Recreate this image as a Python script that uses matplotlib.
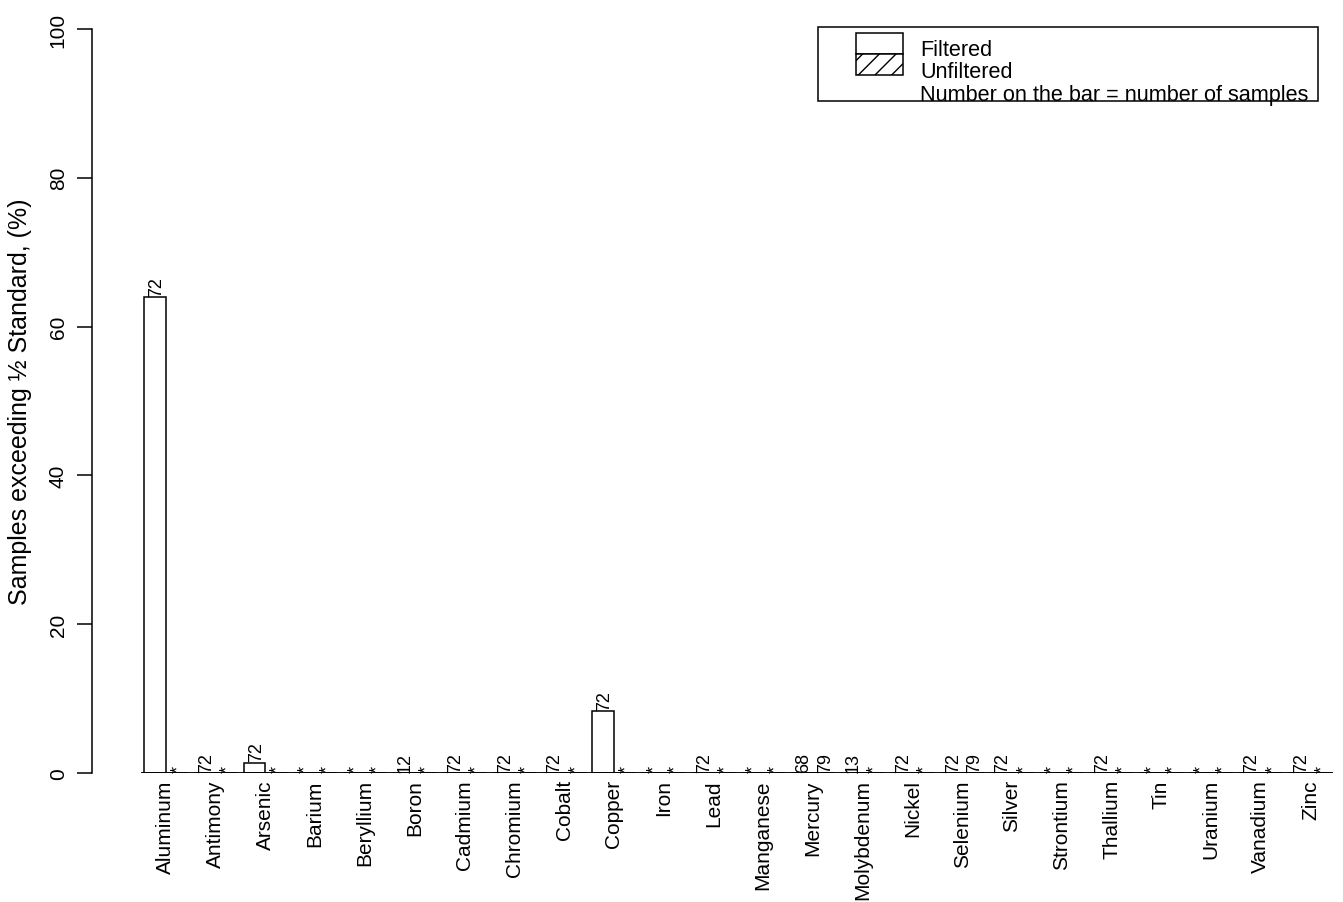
import numpy as np
import matplotlib
matplotlib.use("Agg")
import matplotlib.pyplot as plt
from matplotlib.patches import Rectangle

# percent of samples above half the standard, per element
elements = ["Aluminum", "Antimony", "Arsenic", "Barium", "Beryllium", "Boron",
            "Cadmium", "Chromium", "Cobalt", "Copper", "Iron", "Lead",
            "Manganese", "Mercury", "Molybdenum", "Nickel", "Selenium", "Silver",
            "Strontium", "Thallium", "Tin", "Uranium", "Vanadium", "Zinc"]
filtered_pct = [64.0, 0.0, 1.4, 0.0, 0.0, 0.0, 0.0, 0.0, 0.0, 8.3, 0.0, 0.0,
                0.0, 0.0, 0.0, 0.0, 0.0, 0.0, 0.0, 0.0, 0.0, 0.0, 0.0, 0.0]
unfiltered_pct = [0.0, 0.0, 0.0, 0.0, 0.0, 0.0, 0.0, 0.0, 0.0, 0.0, 0.0, 0.0,
                  0.0, 0.0, 0.0, 0.0, 0.0, 0.0, 0.0, 0.0, 0.0, 0.0, 0.0, 0.0]
# sample counts written on the bars ("*" = not analysed)
filtered_n = ["72", "72", "72", "*", "*", "12", "72", "72", "72", "72", "*", "72",
              "*", "68", "13", "72", "72", "72", "*", "72", "*", "*", "72", "72"]
unfiltered_n = ["*", "*", "*", "*", "*", "*", "*", "*", "*", "*", "*", "*",
                "*", "79", "*", "*", "79", "*", "*", "*", "*", "*", "*", "*"]
key_labels = ['Filtered', 'Unfiltered', 'Number on the bar = number of samples']

plt.rcParams['font.family'] = ['Liberation Sans', 'DejaVu Sans']
plt.rcParams['hatch.linewidth'] = 1.0

W, H = 1343, 903
LW = 1.1
fig = plt.figure(figsize=(W / 100, H / 100), dpi=100)
ax = fig.add_axes([92 / W, (H - 774) / H, (1338 - 92) / W, (774 - 30) / H])

bar_w = 0.432
x = np.arange(len(elements))
ax.bar(x - bar_w, filtered_pct, width=bar_w, align='edge',
       facecolor='white', edgecolor='black', linewidth=LW)
ax.bar(x, unfiltered_pct, width=bar_w, align='edge',
       facecolor='white', edgecolor='black', hatch='//', linewidth=LW)

for xs, vals, labs in [(x - bar_w / 2, filtered_pct, filtered_n),
                       (x + bar_w / 2, unfiltered_pct, unfiltered_n)]:
    for xi, v, lab in zip(xs, vals, labs):
        ax.annotate(lab, (xi, v), xytext=(1.2, 0.8), textcoords='offset points',
                    rotation=90, rotation_mode='anchor', ha='left', va='center',
                    fontsize=13, annotation_clip=False)

ax.hlines(0, -0.5, len(elements) - 0.55, color='black', linewidth=LW * 1.2)

ax.set_xlim(-1.4825, 23.549)
ax.set_ylim(0, 100)
for side in ['top', 'right', 'bottom']:
    ax.spines[side].set_visible(False)
ax.spines['left'].set_linewidth(LW)

ax.set_yticks([0, 20, 40, 60, 80, 100])
ax.tick_params(axis='y', length=10.5, width=LW, labelsize=15, pad=7,
               labelrotation=90)
for lab in ax.get_yticklabels():
    lab.set_va('center')

ax.set_xticks(x)
ax.set_xticklabels(elements, rotation=90, fontsize=15)
ax.tick_params(axis='x', length=0, pad=4.5)

ax.set_ylabel('Samples exceeding ½ Standard, (%)', fontsize=18, va='center')
ax.yaxis.set_label_coords(-(92 - 20) / (1338 - 92), 0.5)


# key in the top right corner, laid out in pixels from the top-left
def fig_xy(xp, yp):
    return xp / W, 1 - yp / H


fig.add_artist(Rectangle(fig_xy(818, 102), 500 / W, 74 / H,
                         transform=fig.transFigure, fill=False,
                         edgecolor='black', linewidth=LW))
fig.add_artist(Rectangle(fig_xy(856, 55), 47 / W, 21 / H,
                         transform=fig.transFigure, facecolor='white',
                         edgecolor='black', linewidth=LW))
fig.add_artist(Rectangle(fig_xy(856, 76), 47 / W, 21 / H,
                         transform=fig.transFigure, facecolor='white',
                         edgecolor='black', hatch='//', linewidth=LW))
for i, lab in enumerate(key_labels):
    tx, ty = fig_xy(920, 50 + 22.5 * i)
    fig.text(tx, ty, lab, ha='left', va='center', fontsize=15.6)

fig.savefig('out.png', dpi=100)
